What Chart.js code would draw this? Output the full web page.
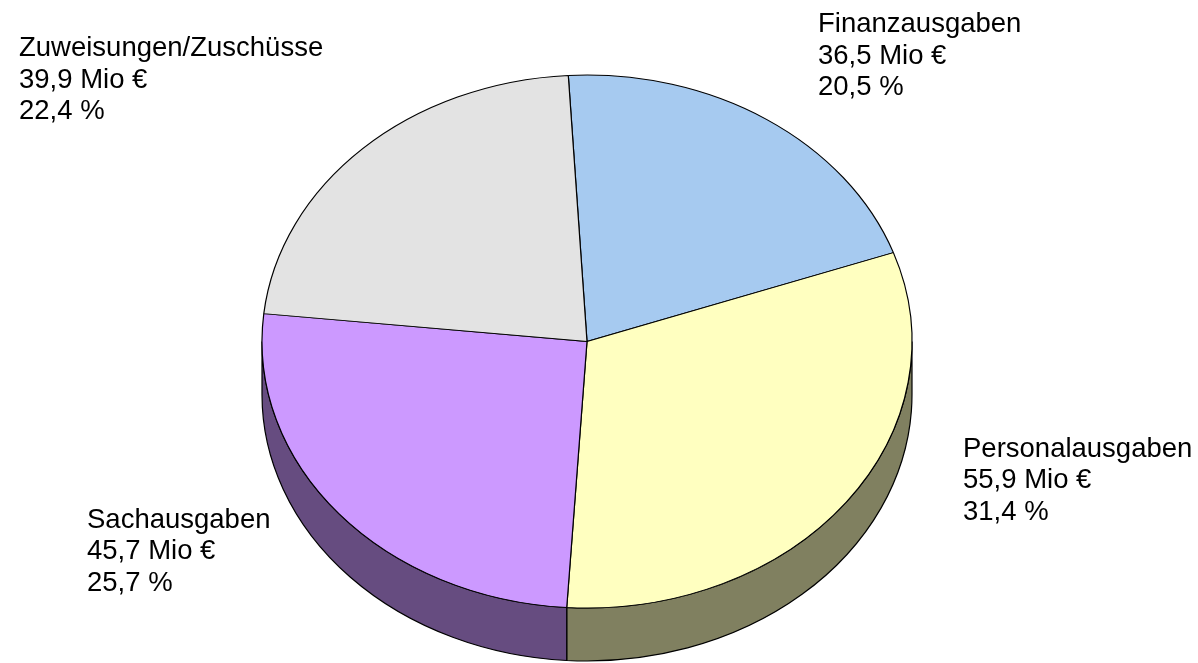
<!DOCTYPE html>
<html>
<head>
<meta charset="utf-8">
<script src="https://cdn.jsdelivr.net/npm/chart.js@4"></script>
<style>
  html, body { margin: 0; padding: 0; background: #fff; }
  canvas { display: block; }
</style>
</head>
<body>
<canvas id="pie" width="1198" height="663"></canvas>
<script>
// values in Mio €, clockwise from the top
const categories = ['Finanzausgaben', 'Personalausgaben', 'Sachausgaben', 'Zuweisungen/Zuschüsse'];
const amounts = [36.5, 55.9, 45.7, 39.9];
const topColors = ['#A6CAF0', '#FFFFC0', '#CC99FF', '#E3E3E3'];
const sideColors = ['#53657A', '#808060', '#664C80', '#727272'];
// where each label block starts (x, first baseline)
const labelPos = [[818, 32], [963, 456.5], [87, 527.5], [19, 56]];

const tilt = 0.82;      // vertical squash of the pie top
const depth = 53;       // height of the pie side in px
const centerY = 341.5;  // where the squashed pie centre sits on screen

const total = amounts.reduce((a, b) => a + b, 0);
const fmt = v => v.toFixed(1).replace('.', ',');

const pie3d = {
  id: 'pie3d',
  beforeDatasetsDraw(chart) {
    const ctx = chart.ctx;
    const arcs = chart.getDatasetMeta(0).data;
    ctx.save();
    // visible front side: canvas angles 0..PI
    arcs.forEach((arc, i) => {
      const { x, startAngle, endAngle, outerRadius } = arc.getProps(['x', 'startAngle', 'endAngle', 'outerRadius']);
      const a0 = Math.max(startAngle, 0);
      const a1 = Math.min(endAngle, Math.PI);
      if (a1 <= a0) return;
      const rx = outerRadius, ry = outerRadius * tilt;
      ctx.beginPath();
      ctx.ellipse(x, centerY, rx, ry, 0, a0, a1);
      ctx.lineTo(x + rx * Math.cos(a1), centerY + depth + ry * Math.sin(a1));
      ctx.ellipse(x, centerY + depth, rx, ry, 0, a1, a0, true);
      ctx.closePath();
      ctx.fillStyle = sideColors[i];
      ctx.fill();
      ctx.lineWidth = 1.2;
      ctx.strokeStyle = '#000';
      ctx.stroke();
    });
    ctx.restore();
    // squash the top face drawn by the library
    const a = arcs[0];
    ctx.save();
    ctx.translate(a.x, centerY);
    ctx.scale(1, tilt);
    ctx.translate(-a.x, -a.y);
  },
  afterDatasetsDraw(chart) {
    chart.ctx.restore();
  },
  afterDraw(chart) {
    const ctx = chart.ctx;
    ctx.save();
    ctx.fillStyle = '#000';
    ctx.font = '27.5px "Liberation Sans", Arial, sans-serif';
    ctx.textBaseline = 'alphabetic';
    categories.forEach((name, i) => {
      const [lx, ly] = labelPos[i];
      const lines = [name, fmt(amounts[i]) + ' Mio €', fmt(amounts[i] / total * 100) + ' %'];
      lines.forEach((t, j) => ctx.fillText(t, lx, ly + j * 31.5));
    });
    ctx.restore();
  }
};

new Chart(document.getElementById('pie'), {
  type: 'pie',
  data: {
    labels: categories,
    datasets: [{
      data: amounts,
      backgroundColor: topColors,
      borderColor: '#000',
      borderWidth: 1.2
    }]
  },
  options: {
    responsive: false,
    animation: false,
    rotation: -3.3,
    radius: 325,
    layout: { padding: { left: 262, right: 286, top: 0, bottom: 13 } },
    plugins: {
      legend: { display: false },
      tooltip: { enabled: false }
    },
    events: []
  },
  plugins: [pie3d]
});
</script>
</body>
</html>
